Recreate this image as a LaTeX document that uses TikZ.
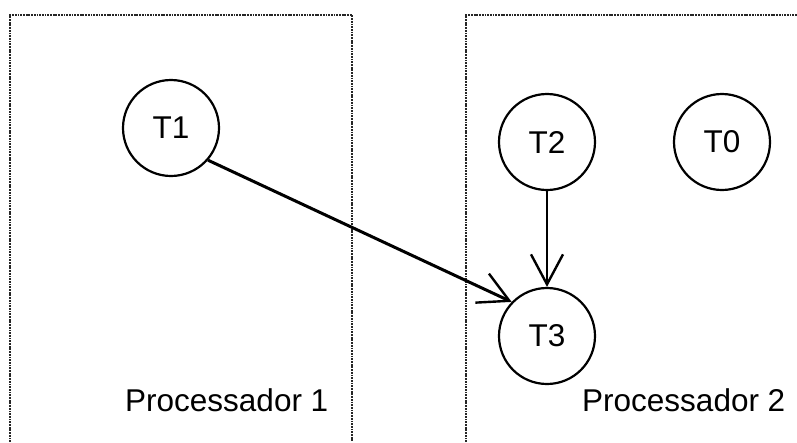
\documentclass[tikz,border=0pt]{standalone}
\usepackage{fontspec}
\setmainfont{Liberation Sans}
\usetikzlibrary{arrows.meta}

\tikzset{
  procbox/.style={line width=1.1pt, black!85, dash pattern=on 1.8pt off 0.9pt},
  task/.style={circle, draw, line width=2.2pt, minimum size=96pt, inner sep=0pt,
               font=\fontsize{31.5}{36}\selectfont},
  proclabel/.style={anchor=base west, inner sep=0pt, font=\fontsize{31.5}{36}\selectfont},
  dep/.style={-{Straight Barb[length=30pt, width=32pt, line width=2.4pt]}},
}

\begin{document}
\begin{tikzpicture}[x=1pt, y=-1pt]
  \useasboundingbox (0,0) rectangle (797,442);

  % processor frames (open at the bottom / right)
  \draw[procbox] (10,442) -- (10,15) -- (352,15) -- (352,442);
  \draw[procbox] (466,442) -- (466,15) -- (797,15);

  % tasks
  \node[task] (T1) at (171,128) {T1};
  \node[task] (T2) at (547,142) {T2};
  \node[task] (T0) at (722,142) {T0};
  \node[task] (T3) at (547,336) {T3};

  % processor labels
  \node[proclabel] (P1) at (125,411) {Processador 1};
  \node[proclabel] (P2) at (582,411) {Processador 2};

  % dependencies
  \draw[dep, line width=3pt] (T1.-41) -- (T3.136);
  \draw[dep, line width=2.2pt] (T2.south) -- (T3.north);
\end{tikzpicture}
\end{document}
